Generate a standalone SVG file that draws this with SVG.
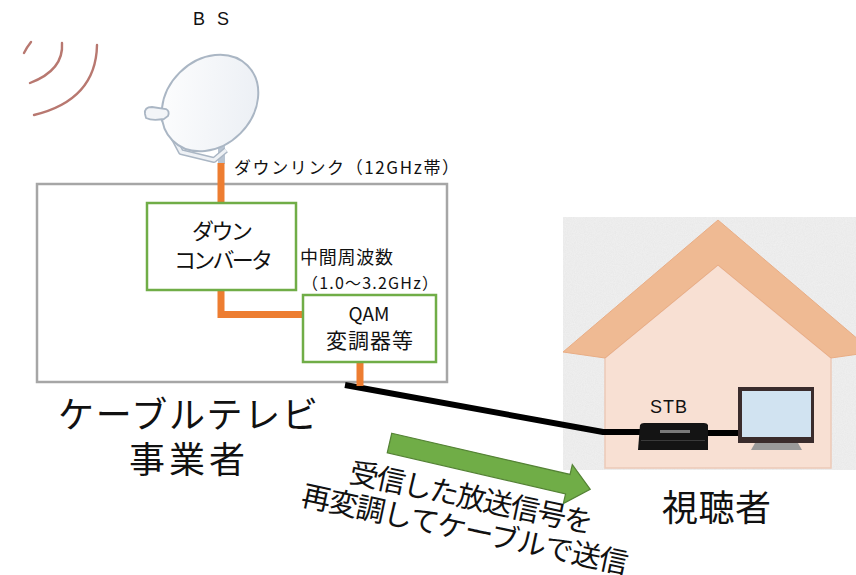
<svg xmlns="http://www.w3.org/2000/svg" width="856" height="575" viewBox="0 0 856 575">
  <style>
    .jp { font-family: "Noto Sans CJK JP", "Noto Sans", sans-serif; fill: #111; }
    .lat { font-family: "Liberation Sans", "Noto Sans", sans-serif; fill: #111; }
    .frame { fill: none; stroke: #a6a6a6; stroke-width: 2.5; }
    .unit { fill: #fff; stroke: #70ad47; stroke-width: 2.5; }
    .feed { fill: none; stroke: #ed7d31; stroke-width: 7; stroke-linejoin: miter; }
    .cable { fill: none; stroke: #000; stroke-width: 6; stroke-linejoin: round; }
    .wave { fill: none; stroke: #b87870; stroke-width: 2.4; stroke-linecap: round; }
  </style>
  <defs>
    <filter id="grain" x="0" y="0" width="1" height="1">
      <feTurbulence type="fractalNoise" baseFrequency="0.9" numOctaves="2" seed="4"/>
      <feColorMatrix type="matrix" values="0 0 0 0 0.75  0 0 0 0 0.75  0 0 0 0 0.75  0 0 0 0.6 0"/>
      <feComposite in2="SourceGraphic" operator="in"/>
    </filter>
    <linearGradient id="dishFill" x1="0" y1="0" x2="1" y2="1">
      <stop offset="0" stop-color="#ffffff"/>
      <stop offset="1" stop-color="#e9edf3"/>
    </linearGradient>
  </defs>

  <rect width="856" height="575" fill="#fff"/>

  <!-- satellite signal waves -->
  <g id="waves">
    <path class="wave" d="M24,53 Q27,47 31,42"/>
    <path class="wave" d="M62,43 Q64,70 30,83"/>
    <path class="wave" d="M97,45 Q96,100 34,115"/>
  </g>

  <!-- BS antenna -->
  <g id="antenna">
    <text class="lat" x="193" y="25" font-size="18" textLength="36">B S</text>
    <rect x="218" y="146" width="7" height="18" fill="#b8c4d2"/>
    <path d="M163,118 L181,152 L214,160 L226,150" fill="none" stroke="#aab6c4" stroke-width="6" stroke-linejoin="round"/>
    <path d="M163,118 L181,152 L214,160 L226,150" fill="none" stroke="#eef1f5" stroke-width="3" stroke-linejoin="round"/>
    <ellipse cx="210" cy="103" rx="53" ry="43" transform="rotate(-45 210 103)" fill="url(#dishFill)" stroke="#aab6c4" stroke-width="2"/>
    <path d="M145,114 Q144,107 152,107 L166,109 Q170,111 168,116 L164,119 Q152,121 146,118 Z" fill="#f3f5f8" stroke="#aab6c4" stroke-width="1.8"/>
  </g>

  <!-- viewer's house -->
  <g id="house">
    <rect x="563" y="217" width="293" height="253" fill="#f1f1f1"/>
    <rect x="563" y="217" width="293" height="253" fill="#fff" filter="url(#grain)"/>
    <path d="M605,358 L718,265 L831,358 L831,468 L605,468 Z" fill="#f8e0d3" stroke="#ecc9b8" stroke-width="1.5"/>
    <path d="M563,352 L718,220 L873,352 L831,358 L718,265 L605,358 Z" fill="#efba93" stroke="#e9ad85" stroke-width="1"/>
    <text class="jp" x="662" y="521" font-size="36" textLength="109" lengthAdjust="spacing">視聴者</text>
  </g>

  <!-- cable operator facility -->
  <g id="operator">
    <rect class="frame" x="37" y="184" width="410" height="198"/>
    <text class="jp" x="58" y="428" font-size="36" textLength="260" lengthAdjust="spacing">ケーブルテレビ</text>
    <text class="jp" x="129" y="473" font-size="36" textLength="116" lengthAdjust="spacing">事業者</text>
  </g>

  <!-- connectors -->
  <g id="connectors">
    <path class="feed" d="M221,163 V203"/>
    <path class="feed" d="M221,290 V314.5 H303"/>
    <path class="cable" d="M345,385 L603,432 L640,432"/>
    <path class="cable" d="M708,433 L740,433"/>
    <path class="feed" d="M360,362 V386"/>
    <text class="jp" x="234" y="174" font-size="17" textLength="225" lengthAdjust="spacing">ダウンリンク（12GHz帯）</text>
    <text class="jp" x="300" y="264" font-size="18" textLength="93" lengthAdjust="spacing">中間周波数</text>
    <text class="jp" x="302" y="289" font-size="16" textLength="136" lengthAdjust="spacing">（1.0～3.2GHz）</text>
  </g>

  <g id="downconverter">
    <rect class="unit" x="147" y="203" width="149" height="87"/>
    <text class="jp" x="192" y="239" font-size="22" textLength="61" lengthAdjust="spacing">ダウン</text>
    <text class="jp" x="174" y="268" font-size="22" textLength="99" lengthAdjust="spacing">コンバータ</text>
  </g>

  <g id="qam">
    <rect class="unit" x="303" y="295" width="133" height="67"/>
    <text class="jp" x="369" y="321" font-size="19" text-anchor="middle">QAM</text>
    <text class="jp" x="326" y="348" font-size="21" textLength="87" lengthAdjust="spacing">変調器等</text>
  </g>

  <g id="stb">
    <text class="lat" x="650" y="413" font-size="18" textLength="37" lengthAdjust="spacing">STB</text>
    <path d="M640,425 Q641,423 644,423 L704,423 Q707,423 708,425 L708,450 L638,450 Z" fill="#141414"/>
    <rect x="660" y="430" width="30" height="3" fill="#7a7a7a"/>
    <rect x="641" y="440" width="64" height="1" fill="#3a3a3a"/>
  </g>

  <g id="tv">
    <rect x="738" y="387" width="76" height="56" fill="#3a2c2c"/>
    <rect x="742" y="391" width="69" height="46" fill="#d1e3f1"/>
    <path d="M755,443 L798,443 L802,450 L751,450 Z" fill="#9a9a9a"/>
  </g>

  <!-- transmission arrow with caption -->
  <g id="transmission">
    <path d="M0,-10 L183,-10 L183,-20 L206,0 L183,20 L183,10 L0,10 Z" transform="translate(389.5,443) rotate(13)" fill="#70ad47" stroke="#548235" stroke-width="1.2"/>
    <text class="jp" transform="translate(348,482) rotate(12)" font-size="29" textLength="248" lengthAdjust="spacing">受信した放送信号を</text>
    <text class="jp" transform="translate(300,505) rotate(12)" font-size="29" textLength="333" lengthAdjust="spacing">再変調してケーブルで送信</text>
  </g>
</svg>
